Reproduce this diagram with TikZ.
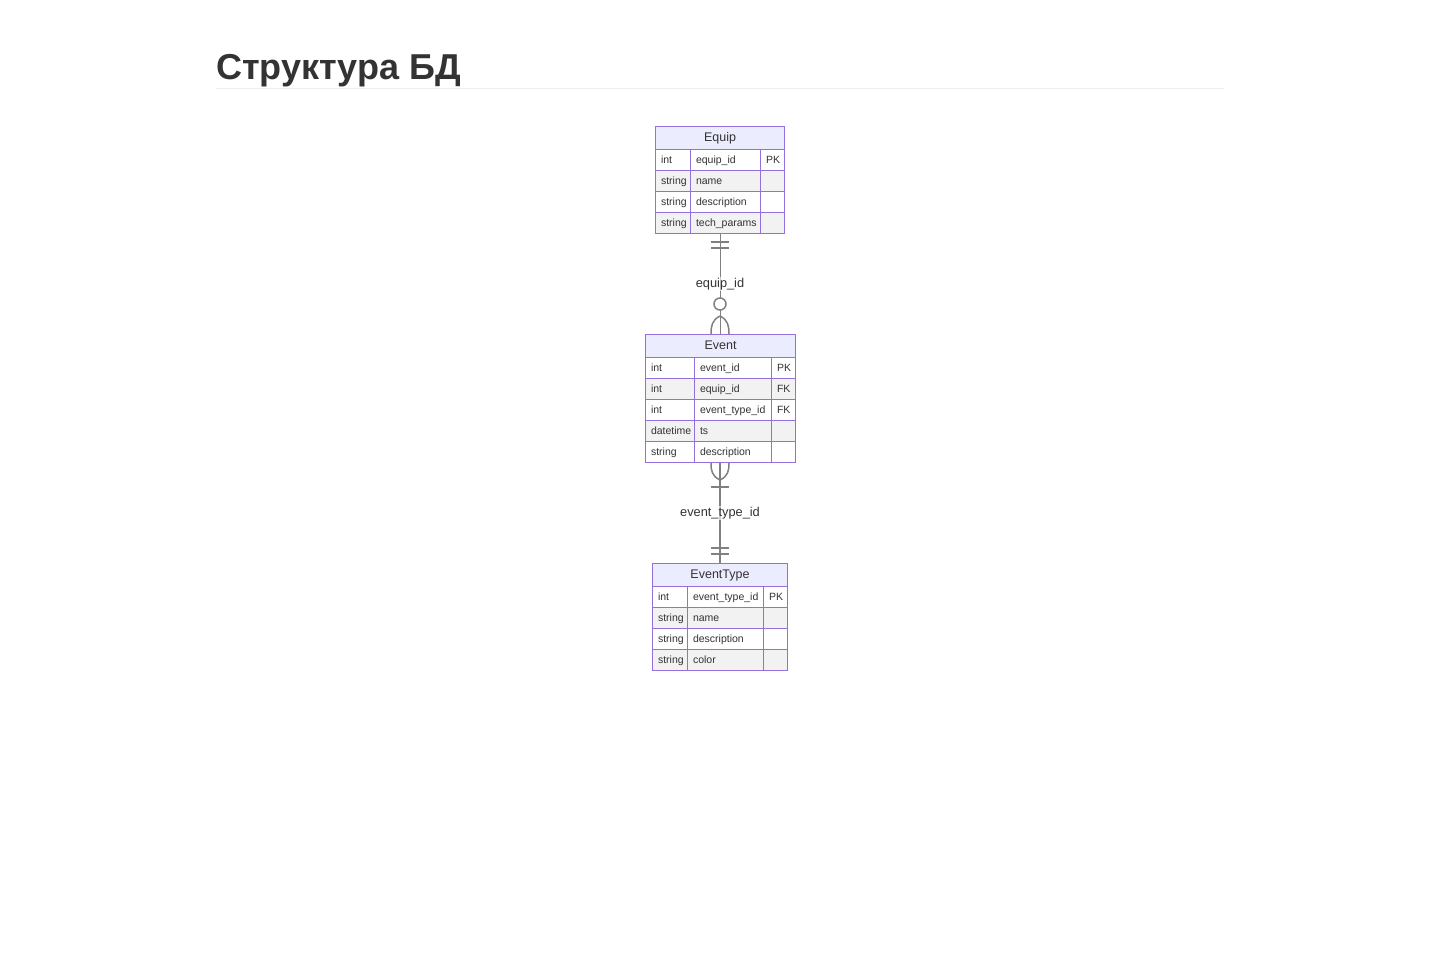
\documentclass[tikz,border=0pt]{standalone}
\usepackage{fontspec}
\setmainfont{Liberation Sans}
\usetikzlibrary{positioning}
\definecolor{erline}{HTML}{9370DB}
\definecolor{erhead}{HTML}{ECECFF}
\definecolor{errow}{HTML}{F2F2F2}
\definecolor{ertext}{HTML}{333333}
\definecolor{relline}{HTML}{808080}
\definecolor{rulegray}{HTML}{EEEEEE}

\tikzset{
  header/.style={draw=erline, line width=1pt, fill=erhead, anchor=north west, minimum height=23pt, inner sep=0pt, text height=9pt, text depth=2.5pt, text=ertext, font=\fontsize{12.5}{15}\selectfont},
  cell/.style={draw=erline, line width=1pt, fill=white, anchor=north west, minimum height=21pt, inner xsep=5.5pt, inner ysep=0pt, text width=#1, text height=7.5pt, text depth=0pt, align=left, text=ertext, font=\fontsize{10.5}{12}\selectfont},
  rel/.style={draw=relline, line width=1.5pt},
  relname/.style={fill=white, fill opacity=0.6, text opacity=1, text=ertext, inner sep=1pt, font=\fontsize{12.8}{15}\selectfont}
}

\begin{document}
\begin{tikzpicture}[x=1pt, y=-1pt]
    \useasboundingbox[fill=white] (0,0) rectangle (1440,960);

    % Title
    \node[anchor=base west, inner sep=0pt, text=ertext, font=\fontsize{36}{42}\selectfont\bfseries] (title) at (216,80) {Структура БД};
    \draw[rulegray, line width=1pt] (216,89) -- (1224,89);

    % Equip
    \node[header, minimum width=129pt] (equip) at (655,126) {Equip};
    \node[cell=24pt] (eqType1) at (655,149) {int};
    \node[cell=59pt] (eqName1) at (690,149) {equip\_id};
    \node[cell=13pt] (eqKey1) at (760,149) {PK};
    \node[cell=24pt, fill=errow] (eqType2) at (655,170) {string};
    \node[cell=59pt, fill=errow] (eqName2) at (690,170) {name};
    \node[cell=13pt, fill=errow] (eqKey2) at (760,170) {};
    \node[cell=24pt] (eqType3) at (655,191) {string};
    \node[cell=59pt] (eqName3) at (690,191) {description};
    \node[cell=13pt] (eqKey3) at (760,191) {};
    \node[cell=24pt, fill=errow] (eqType4) at (655,212) {string};
    \node[cell=59pt, fill=errow] (eqName4) at (690,212) {tech\_params};
    \node[cell=13pt, fill=errow] (eqKey4) at (760,212) {};

    % Event
    \node[header, minimum width=150pt] (event) at (645,334) {Event};
    \node[cell=38pt] (evType1) at (645,357) {int};
    \node[cell=66pt] (evName1) at (694,357) {event\_id};
    \node[cell=13pt] (evKey1) at (771,357) {PK};
    \node[cell=38pt, fill=errow] (evType2) at (645,378) {int};
    \node[cell=66pt, fill=errow] (evName2) at (694,378) {equip\_id};
    \node[cell=13pt, fill=errow] (evKey2) at (771,378) {FK};
    \node[cell=38pt] (evType3) at (645,399) {int};
    \node[cell=66pt] (evName3) at (694,399) {event\_type\_id};
    \node[cell=13pt] (evKey3) at (771,399) {FK};
    \node[cell=38pt, fill=errow] (evType4) at (645,420) {datetime};
    \node[cell=66pt, fill=errow] (evName4) at (694,420) {ts};
    \node[cell=13pt, fill=errow] (evKey4) at (771,420) {};
    \node[cell=38pt] (evType5) at (645,441) {string};
    \node[cell=66pt] (evName5) at (694,441) {description};
    \node[cell=13pt] (evKey5) at (771,441) {};

    % EventType
    \node[header, minimum width=135pt] (evtype) at (652,563) {EventType};
    \node[cell=24pt] (etType1) at (652,586) {int};
    \node[cell=65pt] (etName1) at (687,586) {event\_type\_id};
    \node[cell=13pt] (etKey1) at (763,586) {PK};
    \node[cell=24pt, fill=errow] (etType2) at (652,607) {string};
    \node[cell=65pt, fill=errow] (etName2) at (687,607) {name};
    \node[cell=13pt, fill=errow] (etKey2) at (763,607) {};
    \node[cell=24pt] (etType3) at (652,628) {string};
    \node[cell=65pt] (etName3) at (687,628) {description};
    \node[cell=13pt] (etKey3) at (763,628) {};
    \node[cell=24pt, fill=errow] (etType4) at (652,649) {string};
    \node[cell=65pt, fill=errow] (etName4) at (687,649) {color};
    \node[cell=13pt, fill=errow] (etKey4) at (763,649) {};

    % Equip -- Event (one to zero or many)
    \draw[rel] (event.north |- eqName4.south) -- (event.north);
    \draw[rel] (711,242) -- (729,242);
    \draw[rel] (711,248) -- (729,248);
    \draw[rel] (720,316) .. controls (712,320) and (711,326) .. (711,334);
    \draw[rel] (720,316) .. controls (728,320) and (729,326) .. (729,334);
    \draw[rel, fill=white] (720,304) circle (6pt);
    \node[relname] (lblEquip) at (720,284) {equip\_id};

    % Event -- EventType (one or many to one)
    \draw[rel] (evtype.north |- evName5.south) -- (evtype.north);
    \draw[rel] (711,463) .. controls (711,471) and (712,476) .. (720,480);
    \draw[rel] (729,463) .. controls (729,471) and (728,476) .. (720,480);
    \draw[rel] (711,487) -- (729,487);
    \draw[rel] (711,548) -- (729,548);
    \draw[rel] (711,554) -- (729,554);
    \node[relname] (lblType) at (720,513) {event\_type\_id};
\end{tikzpicture}
\end{document}
